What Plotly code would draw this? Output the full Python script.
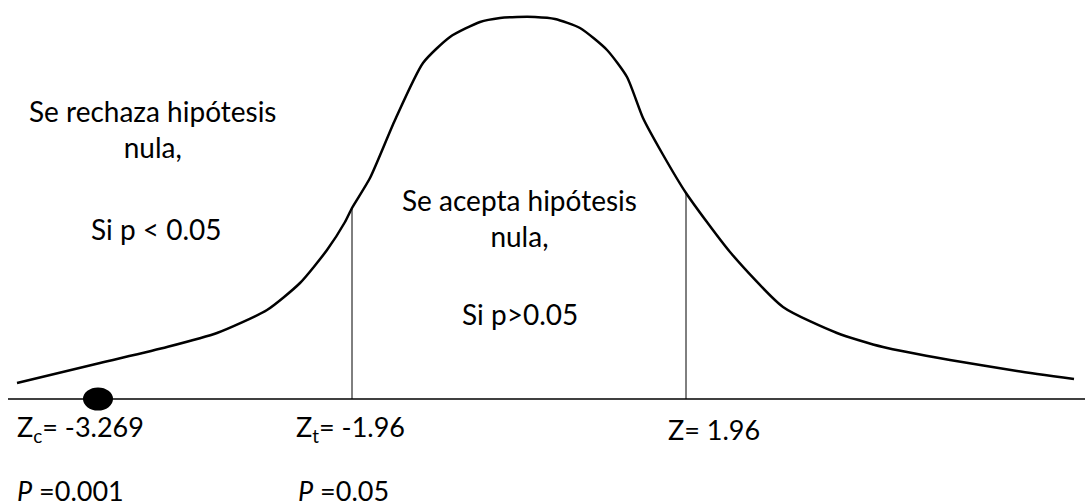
import plotly.graph_objects as go

# bell curve (x in px across, height above baseline in px)
curve_x = [17, 100, 167, 217, 267, 300, 327, 345, 352, 370, 395, 423, 450, 480, 500,
           517, 535, 555, 580, 607, 627, 643, 662, 686, 730, 783, 837, 883, 950, 1017, 1074]
curve_h = [16, 36, 52, 66, 89, 116, 149, 177, 191, 221, 279, 336, 362, 377, 381,
           382, 382, 380, 371, 349, 322, 281, 246, 206, 147, 92, 66, 52, 39, 28, 20]

# critical values (vertical lines) and where they meet the curve
crit_x = [352, 686]
crit_h = [191, 206]

# observed statistic
dot_x = 98
dot_h = 0

axis_x = [8, 1085]
axis_h = [0, 0]

FONT = "Lato"
fig = go.Figure()

fig.add_trace(go.Scatter(x=axis_x, y=axis_h, mode="lines",
                         line=dict(color="black", width=1.3), hoverinfo="skip"))
for cx, ch in zip(crit_x, crit_h):
    fig.add_trace(go.Scatter(x=[cx, cx], y=[0, ch], mode="lines",
                             line=dict(color="black", width=1), hoverinfo="skip"))
fig.add_trace(go.Scatter(x=curve_x, y=curve_h, mode="lines",
                         line=dict(color="black", width=2.5, shape="spline", smoothing=0.6),
                         hoverinfo="skip"))

fig.add_shape(type="circle", xref="x", yref="y", xsizemode="pixel", ysizemode="pixel",
              xanchor=dot_x, yanchor=dot_h, x0=-15, x1=15, y0=-11.5, y1=11.5,
              fillcolor="black", line=dict(color="black", width=0))

def note(text, x, y, size=28, xanchor="center"):
    fig.add_annotation(text=text, x=x, y=y, xref="x", yref="y", showarrow=False,
                       xanchor=xanchor, yanchor="middle", align="center",
                       font=dict(family=FONT, size=size, color="black"))

note("Se rechaza hipótesis<br>nula,", 153, 270)
note("Si p &lt; 0.05", 156, 170)
note("Se acepta hipótesis<br>nula,", 519, 181)
note("Si p&gt;0.05", 520, 85)
note("Z<sub>c</sub>= -3.269", 15, -29, size=27, xanchor="left")
note("Z<sub>t</sub>= -1.96", 294, -29, size=27, xanchor="left")
note("Z= 1.96", 666, -30, size=27, xanchor="left")
note("<i>P</i> =0.001", 15, -91, size=27, xanchor="left")
note("<i>P</i> =0.05", 296, -91, size=27, xanchor="left")

fig.update_layout(
    width=1085, height=504,
    margin=dict(l=0, r=0, t=0, b=0),
    paper_bgcolor="white", plot_bgcolor="white",
    showlegend=False,
    xaxis=dict(range=[0, 1085], visible=False, fixedrange=True),
    yaxis=dict(range=[-105, 399], visible=False, fixedrange=True),
)

fig.write_html("out.html", config={"displayModeBar": False},
               post_script="document.body.style.margin='0';")
